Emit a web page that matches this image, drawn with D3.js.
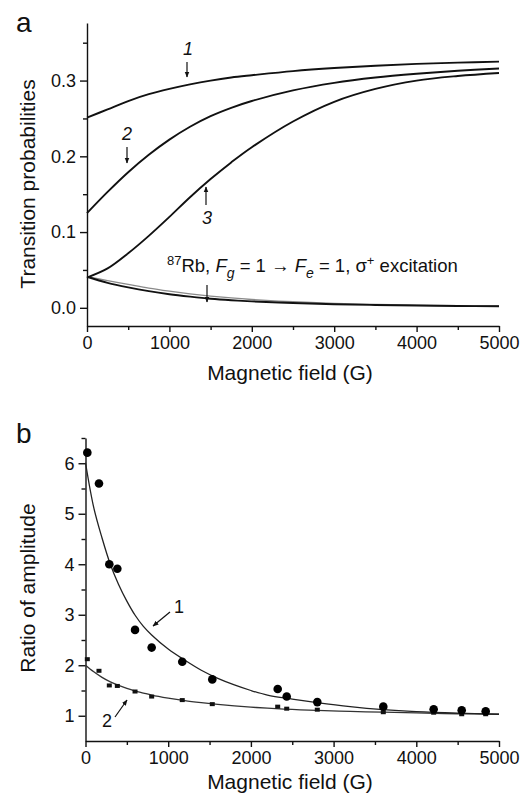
<!DOCTYPE html>
<html lang="en">
<head>
<meta charset="UTF-8">
<title>Transition probabilities / ratio of amplitude</title>
<script src="https://cdn.jsdelivr.net/npm/d3@7"></script>
<style>
  body { margin: 0; background: #fff; }
  svg text { font-family: "Liberation Sans", Arial, sans-serif; fill: #111; }
</style>
</head>
<body>
<script>
// ---- panel a: calculated transition probabilities ----
var fieldA = [0, 250, 500, 750, 1000, 1250, 1500, 1750, 2000, 2500, 3000, 3500, 4000, 4500, 5000];
var curve1 = [0.251, 0.262, 0.273, 0.282, 0.289, 0.295, 0.300, 0.304, 0.307, 0.3125, 0.3165, 0.3195, 0.322, 0.3237, 0.325];
var curve2 = [0.125, 0.153, 0.179, 0.202, 0.222, 0.239, 0.253, 0.264, 0.273, 0.287, 0.297, 0.304, 0.309, 0.313, 0.316];
var curve3 = [0.040, 0.052, 0.072, 0.095, 0.120, 0.146, 0.170, 0.192, 0.212, 0.246, 0.272, 0.289, 0.300, 0.306, 0.310];
var lowBlack = [0.041, 0.033, 0.027, 0.022, 0.018, 0.0148, 0.012, 0.010, 0.0085, 0.0063, 0.0048, 0.0037, 0.003, 0.0025, 0.002];
var lowGray = [0.041, 0.036, 0.031, 0.026, 0.022, 0.0185, 0.0155, 0.013, 0.011, 0.008, 0.006, 0.0046, 0.0036, 0.003, 0.0025];
var yTicksA = [0, 0.1, 0.2, 0.3];
var yMinorA = [0.05, 0.15, 0.25, 0.35];

// ---- panel b: measured ratio of amplitude + fits ----
var fieldFit = [0, 100, 200, 300, 400, 500, 600, 700, 800, 1000, 1200, 1400, 1600, 1800, 2000, 2200, 2500, 2800, 3200, 3600, 4000, 4500, 5000];
var fit1 = [6.01, 5.12, 4.52, 4.00, 3.60, 3.27, 2.99, 2.77, 2.60, 2.32, 2.10, 1.90, 1.74, 1.61, 1.50, 1.41, 1.33, 1.26, 1.18, 1.12, 1.08, 1.05, 1.03];
var fit2 = [2.00, 1.87, 1.76, 1.67, 1.60, 1.54, 1.49, 1.45, 1.41, 1.35, 1.30, 1.26, 1.225, 1.195, 1.17, 1.15, 1.125, 1.105, 1.085, 1.07, 1.055, 1.04, 1.03];
var fieldPts = [22, 163, 288, 385, 599, 800, 1170, 1533, 2324, 2433, 2803, 3601, 4210, 4549, 4839];
var ratio1 = [6.21, 5.60, 4.00, 3.91, 2.70, 2.35, 2.07, 1.72, 1.53, 1.38, 1.27, 1.18, 1.13, 1.11, 1.09];
var ratio2 = [2.12, 1.89, 1.60, 1.59, 1.48, 1.38, 1.31, 1.23, 1.18, 1.14, 1.12, 1.07, 1.06, 1.03, 1.03];
var yTicksB = [1, 2, 3, 4, 5, 6];
var yMinorB = [1.5, 2.5, 3.5, 4.5, 5.5, 6.5];

var xTicks = [0, 1000, 2000, 3000, 4000, 5000];
var xMinor = [500, 1500, 2500, 3500, 4500];

var width = 527, height = 802;
var svg = d3.select("body").append("svg")
    .attr("width", width)
    .attr("height", height);

svg.append("defs").append("marker")
    .attr("id", "head")
    .attr("viewBox", "0 0 10 10")
    .attr("refX", 9).attr("refY", 5)
    .attr("markerWidth", 6).attr("markerHeight", 6)
    .attr("markerUnits", "userSpaceOnUse")
    .attr("orient", "auto")
    .append("path")
    .attr("d", "M0,1 L10,5 L0,9 Z")
    .attr("fill", "#111");

function drawAxes(g, x, y, yTicks, yMinor, yFmt) {
    var xa = g.append("g").attr("transform", "translate(0," + y.range()[0] + ")");
    xa.call(d3.axisBottom(x).tickValues(xTicks).tickSize(6).tickSizeOuter(0).tickPadding(4).tickFormat(d3.format("d")));
    xa.append("g").call(d3.axisBottom(x).tickValues(xMinor).tickSize(4).tickFormat(""))
        .select(".domain").remove();

    var ya = g.append("g").attr("transform", "translate(" + x.range()[0] + ",0)");
    ya.call(d3.axisLeft(y).tickValues(yTicks).tickSize(7).tickSizeOuter(0).tickPadding(4).tickFormat(yFmt));
    ya.append("g").call(d3.axisLeft(y).tickValues(yMinor).tickSize(4).tickFormat(""))
        .select(".domain").remove();

    g.selectAll(".domain, .tick line").attr("stroke", "#111").attr("stroke-width", 1.4);
    g.selectAll(".tick text").style("font-size", "18px")
        .style("font-family", "'Liberation Sans', Arial, sans-serif").attr("fill", "#111");
}

function arrow(g, x1, y1, x2, y2) {
    g.append("line")
        .attr("x1", x1).attr("y1", y1).attr("x2", x2).attr("y2", y2)
        .attr("stroke", "#111").attr("stroke-width", 1.2)
        .attr("marker-end", "url(#head)");
}

// ---------------- panel a ----------------
var xA = d3.scaleLinear().domain([0, 5000]).range([87, 499]);
var yA = d3.scaleLinear().domain([-0.024, 0.376]).range([326, 23]);
var gA = svg.append("g");

drawAxes(gA, xA, yA, yTicksA, yMinorA, d3.format(".1f"));

var lineA = function (vals) {
    return d3.line()
        .x(function (d, i) { return xA(fieldA[i]); })
        .y(function (d) { return yA(d); })
        .curve(d3.curveCatmullRom.alpha(0.5))(vals);
};

gA.append("path").attr("d", lineA(lowGray))
    .attr("fill", "none").attr("stroke", "#8a8a8a").attr("stroke-width", 1.3);
[curve1, curve2, curve3, lowBlack].forEach(function (c) {
    gA.append("path").attr("d", lineA(c))
        .attr("fill", "none").attr("stroke", "#111").attr("stroke-width", 1.9);
});

// curve labels
gA.append("text").attr("x", 188).attr("y", 55).attr("text-anchor", "middle")
    .style("font-size", "18px").style("font-style", "italic").text("1");
arrow(gA, 187, 62, 187, 77);
gA.append("text").attr("x", 127).attr("y", 140).attr("text-anchor", "middle")
    .style("font-size", "18px").style("font-style", "italic").text("2");
arrow(gA, 127, 147, 127, 163);
gA.append("text").attr("x", 207).attr("y", 224).attr("text-anchor", "middle")
    .style("font-size", "18px").style("font-style", "italic").text("3");
arrow(gA, 206, 205, 206, 187);
arrow(gA, 207, 285, 207, 302);

var note = gA.append("text").attr("x", 167).attr("y", 272).style("font-size", "18.5px");
note.append("tspan").attr("dy", -7).style("font-size", "13px").text("87");
note.append("tspan").attr("dy", 7).text("Rb, ");
note.append("tspan").style("font-style", "italic").text("F");
note.append("tspan").attr("dy", 6).style("font-size", "14px").style("font-style", "italic").text("g");
note.append("tspan").attr("dy", -6).text(" = 1 \u2192 ");
note.append("tspan").style("font-style", "italic").text("F");
note.append("tspan").attr("dy", 6).style("font-size", "14px").style("font-style", "italic").text("e");
note.append("tspan").attr("dy", -6).text(" = 1, \u03c3");
note.append("tspan").attr("dy", -7).style("font-size", "13px").text("+");
note.append("tspan").attr("dy", 7).text(" excitation");

gA.append("text").attr("x", 290).attr("y", 380).attr("text-anchor", "middle")
    .style("font-size", "21px").text("Magnetic field (G)");
gA.append("text").attr("transform", "translate(35,184) rotate(-90)").attr("text-anchor", "middle")
    .style("font-size", "21px").text("Transition probabilities");
gA.append("text").attr("x", 16).attr("y", 32).style("font-size", "28px").text("a");

// ---------------- panel b ----------------
var xB = d3.scaleLinear().domain([0, 5000]).range([85.5, 499]);
var yB = d3.scaleLinear().domain([0.5, 6.5]).range([741, 438]);
var gB = svg.append("g");

drawAxes(gB, xB, yB, yTicksB, yMinorB, d3.format("d"));

var lineB = d3.line()
    .x(function (d) { return xB(d[0]); })
    .y(function (d) { return yB(d[1]); })
    .curve(d3.curveCatmullRom.alpha(0.5));

gB.append("path").attr("d", lineB(d3.zip(fieldFit, fit2)))
    .attr("fill", "none").attr("stroke", "#333").attr("stroke-width", 1.3);
gB.append("path").attr("d", lineB(d3.zip(fieldFit, fit1)))
    .attr("fill", "none").attr("stroke", "#222").attr("stroke-width", 1.3);

gB.selectAll("rect.sq")
    .data(d3.zip(fieldPts, ratio2))
    .enter().append("rect")
    .attr("class", "sq")
    .attr("x", function (d) { return xB(d[0]) - 2.5; })
    .attr("y", function (d) { return yB(d[1]) - 2; })
    .attr("width", 5).attr("height", 4)
    .attr("fill", "#111");

gB.selectAll("circle")
    .data(d3.zip(fieldPts, ratio1))
    .enter().append("circle")
    .attr("cx", function (d) { return xB(d[0]); })
    .attr("cy", function (d) { return yB(d[1]); })
    .attr("r", 4.3)
    .attr("fill", "#000");

gB.append("text").attr("x", 179).attr("y", 613).attr("text-anchor", "middle")
    .style("font-size", "18px").text("1");
arrow(gB, 170, 612, 153, 626);
gB.append("text").attr("x", 107).attr("y", 727).attr("text-anchor", "middle")
    .style("font-size", "18px").text("2");
arrow(gB, 115, 717, 127, 700);

gB.append("text").attr("x", 290).attr("y", 789).attr("text-anchor", "middle")
    .style("font-size", "21px").text("Magnetic field (G)");
gB.append("text").attr("transform", "translate(35,588) rotate(-90)").attr("text-anchor", "middle")
    .style("font-size", "21px").text("Ratio of amplitude");
gB.append("text").attr("x", 16).attr("y", 443).style("font-size", "28px").text("b");
</script>
</body>
</html>
